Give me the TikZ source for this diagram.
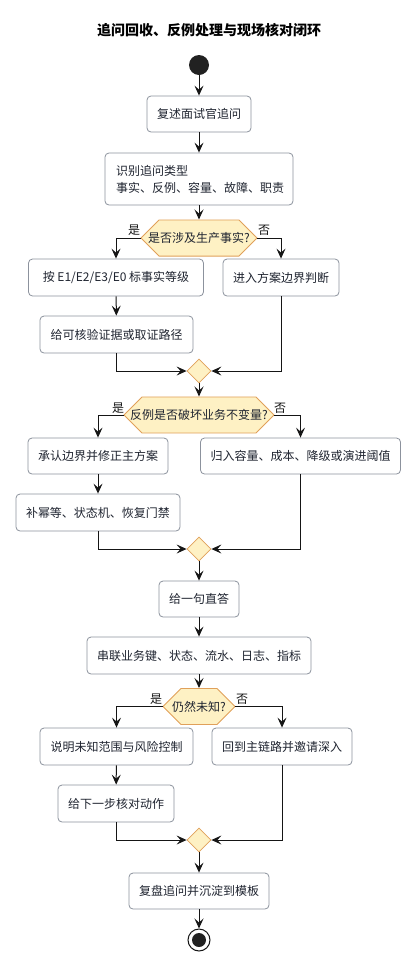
\documentclass[tikz,border=0pt]{standalone}
\usepackage{fontspec}
\setmainfont{Noto Sans CJK SC}
\usetikzlibrary{arrows.meta,shapes.geometric,shapes.misc}
\definecolor{boxline}{HTML}{8C929D}
\definecolor{txt}{HTML}{1F2430}
\definecolor{decfill}{HTML}{FEF1C4}
\definecolor{decline}{HTML}{E0A05A}
\definecolor{ink}{HTML}{151515}
\tikzset{
  act/.style={draw=boxline, fill=white, rounded corners=4pt, line width=0.8pt,
    text=txt, font=\fontsize{12}{14}\selectfont, inner sep=0pt, align=center},
  dec/.style={chamfered rectangle, chamfered rectangle xsep=11pt, chamfered rectangle ysep=12.5pt,
    draw=decline, fill=decfill, line width=0.8pt, text=txt, font=\fontsize{12}{14}\selectfont,
    inner sep=0pt},
  merge/.style={diamond, aspect=1, draw=decline, fill=decfill, line width=0.8pt,
    minimum width=24pt, minimum height=24pt, inner sep=0pt},
  arr/.style={draw=ink, line width=1pt, -{Stealth[length=10pt,width=9pt,inset=4pt]}},
  lbl/.style={text=ink, font=\fontsize{12}{14}\selectfont, inner sep=0pt},
}
\begin{document}
\begin{tikzpicture}[x=1pt,y=-1pt]
\useasboundingbox (0,0) rectangle (419,970);
\node[font=\bfseries\fontsize{14}{16}\selectfont, text=black] (title) at (209,30) {追问回收、反例处理与现场核对闭环};
\node[circle, fill=ink!95, minimum size=20pt, inner sep=0pt] (start) at (199,65) {};
\node[act, minimum width=104pt, minimum height=36pt] (b1) at (199,114) {复述面试官追问};
\node[act, minimum width=188pt, minimum height=52pt, align=left, text width=166pt, font=\fontsize{12}{17}\selectfont] (b2) at (199,179) {识别追问类型\\事实、反例、容量、故障、职责};
\node[dec, minimum width=116pt, minimum height=25pt] (d1) at (199,238) {是否涉及生产事实?};
\node[act, minimum width=175pt, minimum height=37pt] (b3) at (116,277.5) {按 E1/E2/E3/E0 标事实等级};
\node[act, minimum width=116pt, minimum height=37pt] (b4) at (281,277.5) {进入方案边界判断};
\node[act, minimum width=153pt, minimum height=37pt] (b5) at (116.5,334.5) {给可核验证据或取证路径};
\node[merge] (m1) at (199,371) {};
\node[dec, minimum width=150pt, minimum height=25pt] (d2) at (199,415) {反例是否破坏业务不变量?};
\node[act, minimum width=140pt, minimum height=36pt] (b6) at (98,456) {承认边界并修正主方案};
\node[act, minimum width=200pt, minimum height=36pt] (b7) at (300.5,456) {归入容量、成本、降级或演进阈值};
\node[act, minimum width=164pt, minimum height=37pt] (b8) at (98,512.5) {补幂等、状态机、恢复门禁};
\node[merge] (m2) at (199,549) {};
\node[act, minimum width=80pt, minimum height=36pt] (b9) at (199,599) {给一句直答};
\node[act, minimum width=224pt, minimum height=37pt] (b10) at (199,655.5) {串联业务键、状态、流水、日志、指标};
\node[dec, minimum width=72pt, minimum height=25pt] (d3) at (199,706.5) {仍然未知?};
\node[act, minimum width=153pt, minimum height=37pt] (b11) at (116.5,746.5) {说明未知范围与风险控制};
\node[act, minimum width=140pt, minimum height=37pt] (b12) at (282,746.5) {回到主链路并邀请深入};
\node[act, minimum width=116pt, minimum height=37pt] (b13) at (116,803.5) {给下一步核对动作};
\node[merge] (m3) at (199,840) {};
\node[act, minimum width=140pt, minimum height=36pt] (b14) at (199,891) {复盘追问并沉淀到模板};
\node[circle, draw=ink, line width=1pt, fill=white, minimum size=22pt, inner sep=0pt] (endo) at (199,940) {};
\node[circle, fill=ink!95, minimum size=14pt, inner sep=0pt] (endi) at (199,940) {};
% labels
\node[lbl] (l1y) at (134,230) {是};
\node[lbl] (l1n) at (264,230) {否};
\node[lbl] (l2y) at (118,408) {是};
\node[lbl] (l2n) at (280,408) {否};
\node[lbl] (l3y) at (156,699) {是};
\node[lbl] (l3n) at (242,699) {否};
% connectors
\draw[arr] (start) -- (b1);
\draw[arr] (b1) -- (b2);
\draw[arr] (b2) -- (d1);
\draw[arr] (d1.west) -| (b3.north);
\draw[arr] (d1.east) -| (b4.north);
\draw[arr] (b3) -- (b5);
\draw[arr] (b5.south) |- (m1.west);
\draw[arr] (b4.south) |- (m1.east);
\draw[arr] (m1) -- (d2);
\draw[arr] (d2.west) -| (b6.north);
\draw[arr] (d2.east) -| (b7.north);
\draw[arr] (b6) -- (b8);
\draw[arr] (b8.south) |- (m2.west);
\draw[arr] (b7.south) |- (m2.east);
\draw[arr] (m2) -- (b9);
\draw[arr] (b9) -- (b10);
\draw[arr] (b10) -- (d3);
\draw[arr] (d3.west) -| (b11.north);
\draw[arr] (d3.east) -| (b12.north);
\draw[arr] (b11) -- (b13);
\draw[arr] (b13.south) |- (m3.west);
\draw[arr] (b12.south) |- (m3.east);
\draw[arr] (m3) -- (b14);
\draw[arr] (b14) -- (endo);
\end{tikzpicture}
\end{document}
